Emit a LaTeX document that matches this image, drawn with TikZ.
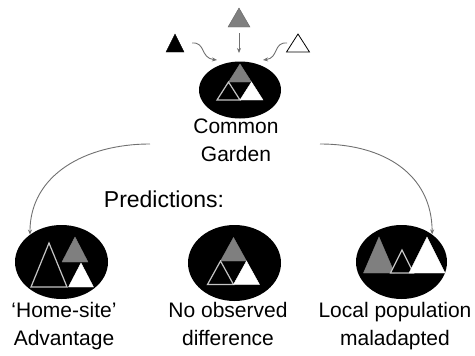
\documentclass[tikz,border=0pt]{standalone}
\usepackage{fontspec}
\setmainfont{Liberation Sans}
\usetikzlibrary{shapes.geometric,arrows.meta}
\definecolor{midgrey}{HTML}{7F7F7F}
\definecolor{outl}{HTML}{C4C4C4}
\definecolor{arrgrey}{HTML}{707070}
% apex, half base, height
\newcommand{\tri}[4]{\filldraw[#1] (#2) -- ++(-#3,#4) -- ++(2*#3,0) -- cycle;}
\begin{document}
\begin{tikzpicture}[x=1pt,y=-1pt,
  blob/.style={ellipse,fill=black,inner sep=0pt},
  lbl/.style={align=center,font=\fontsize{21}{28}\selectfont,anchor=base,inner sep=0pt},
  grey/.style={fill=midgrey,draw=midgrey,line width=0.4pt},
  hollow/.style={fill=black,draw=outl,line width=1.2pt},
  light/.style={fill=white,draw=white,line width=0.4pt},
  link/.style={draw=arrgrey,line width=0.9pt,-{Stealth[length=5pt,width=4pt]}}]
\useasboundingbox (0,0) rectangle (475,356);
% garden and the three outcomes
\node[blob,minimum width=82pt,minimum height=57pt] (gar) at (240,90) {};
\node[blob,minimum width=93pt,minimum height=74pt] (home) at (61.5,262) {};
\node[blob,minimum width=93pt,minimum height=76pt] (same) at (234.5,263) {};
\node[blob,minimum width=91pt,minimum height=74pt] (local) at (401.5,262) {};
% source populations
\tri{fill=black}{175,34}{9}{18}
\tri{grey,draw=black!60}{239,8}{11}{19}
\tri{fill=white,draw=black,line width=0.8pt}{298,34}{11.5}{18}
% triforce in the garden
\tri{grey}{240,64}{11.5}{18}
\tri{hollow}{228.5,82}{11.5}{18}
\tri{light}{251.5,82}{11.5}{18}
% home-site advantage
\tri{hollow}{49,243}{18}{44}
\tri{grey}{75,237}{13}{25}
\tri{light}{81,263}{12.5}{24}
% no difference
\tri{grey}{233.5,237.5}{13}{23.5}
\tri{hollow}{220.5,261}{13}{23.5}
\tri{light}{246.5,261}{13}{23.5}
% maladapted
\tri{grey}{379,237}{15.5}{36}
\tri{hollow}{402,250}{11.5}{23}
\tri{light}{427,237}{18}{36}
% texts (base = last line)
\node[lbl] (gartxt) at (236,161) {Common\\Garden};
\node[lbl,font=\fontsize{23}{27}\selectfont] (pred) at (164,207) {Predictions:};
\node[lbl] (hometxt) at (64,345) {`Home-site'\\Advantage};
\node[lbl] (sametxt) at (228,345) {No observed\\difference};
\node[lbl] (localtxt) at (395,345) {Local population\\maladapted};
% connectors
\coordinate (s1) at (192,43);
\coordinate (e1) at (217,60);
\coordinate (s2) at (239,33);
\coordinate (e2) at (239,53);
\coordinate (s3) at (287,43);
\coordinate (e3) at (263,60);
\coordinate (l0) at (150,144);
\coordinate (r0) at (320,144);
\draw[link] (s1) .. controls (206,42) and (200,58) .. (e1);
\draw[link] (s2) -- (e2);
\draw[link] (s3) .. controls (273,42) and (279,58) .. (e3);
\draw[link] (l0) .. controls (85,144) and (30,175) .. (home.139);
\draw[link] (r0) .. controls (385,144) and (432,175) .. (local.42);
\end{tikzpicture}
\end{document}
